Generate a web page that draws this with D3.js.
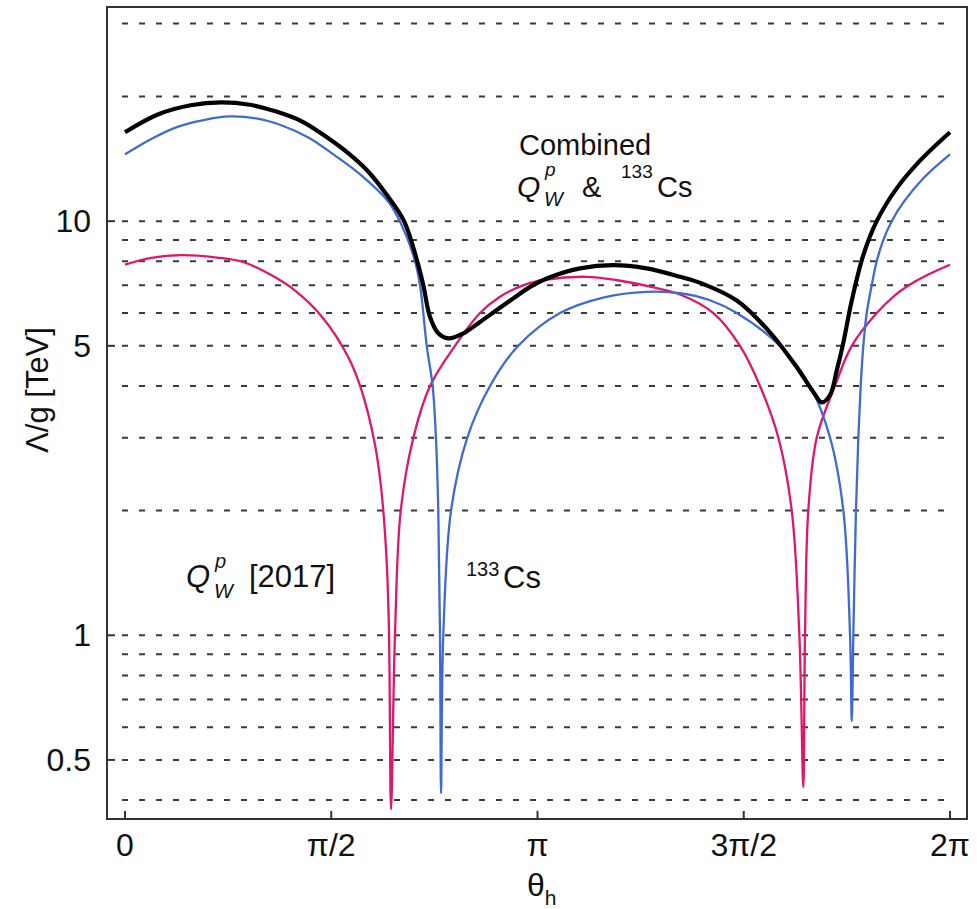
<!DOCTYPE html>
<html>
<head>
<meta charset="utf-8">
<script src="https://cdn.jsdelivr.net/npm/d3@7"></script>
<style>
  body { margin: 0; background: #fff; }
  svg { display: block; font-family: "Liberation Sans", Arial, Helvetica, sans-serif; }
</style>
</head>
<body>
<div id="chart"></div>
<script>
const width = 977;
const height = 909;

// axis ticks
const thetaTicks = [0, Math.PI / 2, Math.PI, 3 * Math.PI / 2, 2 * Math.PI];
const thetaTickLabels = ["0", "π/2", "π", "3π/2", "2π"];
const yTicks = [0.5, 1, 5, 10];
const gridValues = [0.4, 0.5, 0.6, 0.7, 0.8, 0.9, 1, 2, 3, 4, 5, 6, 7, 8, 9, 10, 20, 30];

// Q_W^p [2017]  (theta in rad, Lambda/g in TeV)
const qwpTheta = [0, 0.2, 0.43, 0.7, 0.9, 1.1, 1.3, 1.5, 1.7, 1.8, 1.9, 1.95, 1.99, 2.01, 2.026,
  2.056, 2.1, 2.196, 2.323, 2.513, 2.704, 2.85, 3.031, 3.2, 3.519, 3.75, 4.0, 4.227, 4.481, 4.684,
  4.836, 4.976, 5.078, 5.136, 5.166, 5.179, 5.204, 5.268, 5.407, 5.535, 5.725, 5.87, 6.017, 6.15, 6.283];
const qwpValue = [7.85, 8.15, 8.28, 8.17, 7.97, 7.45, 6.78, 5.88, 4.7, 3.92, 2.93, 2.28, 1.57, 1.04, 0.38,
  1, 2, 3, 4, 5, 6, 6.55, 7, 7.22, 7.34, 7.2, 6.95, 6.65, 6, 5,
  4, 3, 2, 1, 0.43, 1, 2, 3, 4, 5, 6, 6.65, 7.15, 7.52, 7.85];

// 133Cs
const csTheta = [0, 0.2, 0.4, 0.6, 0.8, 1.0, 1.2, 1.4, 1.6, 1.8, 2.0, 2.1, 2.2, 2.247, 2.298, 2.343,
  2.368, 2.386, 2.399, 2.407, 2.424, 2.483, 2.607, 2.78, 2.995, 3.313, 3.65, 3.973, 4.227, 4.45,
  4.659, 4.988, 5.217, 5.37, 5.471, 5.522, 5.535, 5.547, 5.567, 5.585, 5.603, 5.623, 5.649, 5.687,
  5.725, 5.775, 5.839, 5.928, 6.08, 6.283];
const csValue = [14.5, 15.8, 16.9, 17.55, 17.9, 17.7, 17.0, 15.9, 14.4, 12.9, 11.2, 9.9, 8.2, 7, 5, 4,
  3, 2, 1, 0.415, 1, 2, 3, 4, 5, 6, 6.55, 6.75, 6.7, 6.45,
  6, 5, 4, 3, 2, 1, 0.62, 1, 2, 3, 4, 5, 6, 7,
  8, 9, 10, 11.1, 12.7, 14.5];

// combined
const combTheta = [0, 0.25, 0.5, 0.733, 0.95, 1.14, 1.35, 1.521, 1.7, 1.85, 2.0, 2.125, 2.226, 2.272,
  2.323, 2.386, 2.462, 2.577, 2.704, 2.831, 2.957, 3.085, 3.212, 3.465, 3.719, 3.973, 4.227, 4.404,
  4.659, 4.912, 5.116, 5.242, 5.306, 5.369, 5.42, 5.471, 5.535, 5.623, 5.725, 5.877, 6.055, 6.283];
const combValue = [16.4, 18.1, 19.05, 19.35, 19.1, 18.44, 17.4, 16.08, 14.6, 13.2, 11.5, 10, 8, 7,
  5.87, 5.36, 5.21, 5.36, 5.71, 6.10, 6.51, 6.94, 7.27, 7.69, 7.83, 7.69, 7.34, 7.05,
  6.43, 5.39, 4.44, 3.87, 3.65, 3.80, 4.35, 5.09, 6.43, 8.28, 10, 12.0, 14.0, 16.4];

const series = [
  { name: "qwp", theta: qwpTheta, value: qwpValue, color: "#e2156b", width: 2.3 },
  { name: "cs", theta: csTheta, value: csValue, color: "#4169d2", width: 2.3 },
  { name: "comb", theta: combTheta, value: combValue, color: "#000", width: 4.2 }
];

const frame = { left: 107, right: 967, top: 7, bottom: 819 };

const x = d3.scaleLinear().domain([0, 2 * Math.PI]).range([125, 950]);
const y = d3.scaleLog().domain([0.36, 32.9]).range([frame.bottom, frame.top]);

const svg = d3.select("#chart")
  .append("svg")
  .attr("width", width)
  .attr("height", height);

// dashed grid
svg.append("g")
  .selectAll("line")
  .data(gridValues)
  .enter()
  .append("line")
  .attr("x1", 122)
  .attr("x2", 953)
  .attr("y1", d => y(d))
  .attr("y2", d => y(d))
  .attr("stroke", "#3a3a3a")
  .attr("stroke-width", 2)
  .attr("stroke-dasharray", "6 11");

// curves
const line = d3.line()
  .x(d => x(d[0]))
  .y(d => y(d[1]))
  .curve(d3.curveCatmullRom.alpha(0.5));

svg.append("g")
  .selectAll("path")
  .data(series)
  .enter()
  .append("path")
  .attr("d", s => line(s.theta.map((t, i) => [t, s.value[i]])))
  .attr("fill", "none")
  .attr("stroke", s => s.color)
  .attr("stroke-width", s => s.width)
  .attr("stroke-linejoin", "round");

// frame
svg.append("rect")
  .attr("x", frame.left)
  .attr("y", frame.top)
  .attr("width", frame.right - frame.left)
  .attr("height", frame.bottom - frame.top)
  .attr("fill", "none")
  .attr("stroke", "#333")
  .attr("stroke-width", 2);

// x ticks (inward)
svg.append("g")
  .selectAll("line")
  .data(thetaTicks)
  .enter()
  .append("line")
  .attr("x1", d => x(d))
  .attr("x2", d => x(d))
  .attr("y1", frame.bottom)
  .attr("y2", frame.bottom - 8)
  .attr("stroke", "#333")
  .attr("stroke-width", 2);

svg.append("g")
  .selectAll("text")
  .data(thetaTicks)
  .enter()
  .append("text")
  .attr("x", d => x(d))
  .attr("y", 856)
  .attr("text-anchor", "middle")
  .style("font-size", "32px")
  .style("fill", "#111")
  .text((d, i) => thetaTickLabels[i]);

// y ticks (inward)
svg.append("g")
  .selectAll("line")
  .data(yTicks)
  .enter()
  .append("line")
  .attr("x1", frame.left)
  .attr("x2", frame.left + 8)
  .attr("y1", d => y(d))
  .attr("y2", d => y(d))
  .attr("stroke", "#333")
  .attr("stroke-width", 2);

svg.append("g")
  .selectAll("text")
  .data(yTicks)
  .enter()
  .append("text")
  .attr("x", 91)
  .attr("y", d => y(d) + 11)
  .attr("text-anchor", "end")
  .style("font-size", "32px")
  .style("fill", "#111")
  .text(d => d);

// axis titles
const xTitle = svg.append("text")
  .attr("x", 527)
  .attr("y", 896)
  .style("font-size", "32px")
  .style("fill", "#111");
xTitle.append("tspan").text("θ");
xTitle.append("tspan").attr("dy", 9).style("font-size", "21px").text("h");

svg.append("text")
  .attr("transform", "translate(48,390) rotate(-90)")
  .attr("text-anchor", "middle")
  .style("font-size", "31px")
  .style("fill", "#111")
  .text("Λ/g [TeV]");

// annotations
function label(tx, ty, txt, size, italic) {
  svg.append("text")
    .attr("x", tx)
    .attr("y", ty)
    .style("font-size", size + "px")
    .style("font-style", italic ? "italic" : "normal")
    .style("fill", "#111")
    .text(txt);
}

label(519, 155, "Combined", 29);
label(517, 197, "Q", 30, true);
label(545, 176, "p", 19, true);
label(544, 206, "W", 20, true);
label(582, 197, "&", 29);
label(621, 178, "133", 19);
label(657, 197, "Cs", 29);

label(186, 587, "Q", 31, true);
label(215, 568, "p", 20, true);
label(214, 598, "W", 20, true);
label(249, 587, "[2017]", 31);
label(466, 576, "133", 20);
label(503, 588, "Cs", 31);
</script>
</body>
</html>
